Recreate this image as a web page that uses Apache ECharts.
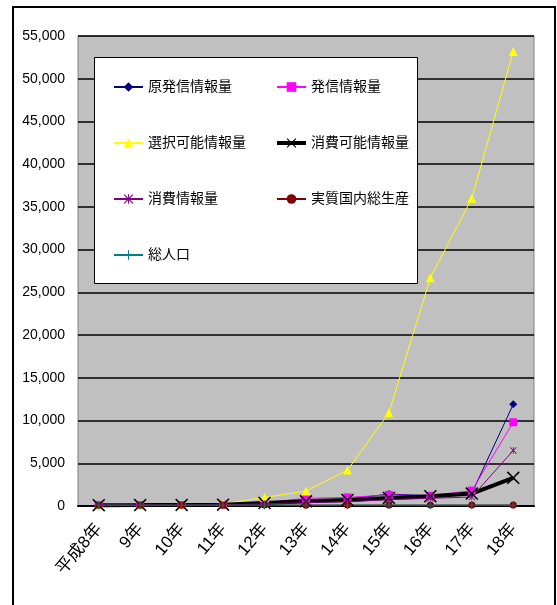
<!DOCTYPE html>
<html>
<head>
<meta charset="utf-8">
<script src="https://cdn.jsdelivr.net/npm/echarts@6/dist/echarts.min.js"></script>
<style>
  html, body { margin: 0; padding: 0; background: #fff; }
  #chart { width: 557px; height: 605px; }
</style>
</head>
<body>
<div id="chart"></div>
<script>
const categories = ['平成8年', '9年', '10年', '11年', '12年', '13年', '14年', '15年', '16年', '17年', '18年'];
const yTicks = [0, 5000, 10000, 15000, 20000, 25000, 30000, 35000, 40000, 45000, 50000, 55000];

const genHasshin = [100, 110, 120, 150, 400, 700, 800, 1400, 1200, 1500, 11900];
const hasshin = [100, 110, 120, 150, 400, 900, 1000, 1300, 1200, 1800, 9800];
const sentakuKanou = [100, 120, 150, 250, 1000, 1750, 4200, 10900, 26700, 36000, 53200];
const shouhiKanou = [100, 110, 130, 160, 350, 550, 700, 950, 1150, 1450, 3300];
const shouhi = [100, 105, 110, 130, 250, 400, 500, 750, 900, 1050, 6500];
const gdp = [100, 101, 100, 101, 103, 102, 103, 105, 107, 110, 112];
const population = [100, 100, 100, 101, 101, 101, 101, 101, 101, 101, 101];

const FONT = "'Liberation Sans', 'Noto Sans CJK JP', sans-serif";

// marker shapes Excel uses that echarts does not have
const xMark = 'path://M0,1L1,0L6,5L11,0L12,1L7,6L12,11L11,12L6,7L1,12L0,11L5,6Z';
const starMark = 'path://M0,1L1,0L6,5L11,0L12,1L7,6L12,11L11,12L6,7L1,12L0,11L5,6ZM5.4,0H6.6V12H5.4Z';
const plusMark = 'path://M5.3,0H6.7V5.3H12V6.7H6.7V12H5.3V6.7H0V5.3H5.3Z';

function line(name, data, color, symbol, size, width) {
  return {
    name: name,
    type: 'line',
    data: data,
    symbol: symbol,
    symbolSize: size,
    showSymbol: true,
    lineStyle: { color: color, width: width || 1 },
    itemStyle: { color: color },
    emphasis: { disabled: true },
  };
}

const chart = echarts.init(document.getElementById('chart'));
const legendText = { color: '#000', fontSize: 14, fontFamily: FONT, lineHeight: 16 };
const option = {
  animation: false,
  backgroundColor: '#fff',
  graphic: [
    {
      type: 'rect',
      z: 0,
      shape: { x: 13, y: 7, width: 542, height: 640 },
      style: { fill: 'none', stroke: '#000', lineWidth: 2 },
    },
    {
      type: 'rect',
      z: 3,
      shape: { x: 94.5, y: 57.5, width: 323, height: 226 },
      style: { fill: '#fff', stroke: '#000', lineWidth: 1 },
    },
  ],
  grid: {
    left: 78,
    right: 23,
    top: 36,
    bottom: 99,
    show: true,
    backgroundColor: '#C0C0C0',
    borderColor: '#808080',
    borderWidth: 1,
  },
  legend: [
    {
      orient: 'vertical',
      left: 108,
      top: 74,
      itemWidth: 29,
      itemHeight: 12,
      itemGap: 40,
      z: 5,
      textStyle: legendText,
      data: ['原発信情報量', '選択可能情報量', '消費情報量', '総人口'],
    },
    {
      orient: 'vertical',
      left: 270,
      top: 74,
      itemWidth: 29,
      itemHeight: 12,
      itemGap: 40,
      z: 5,
      textStyle: legendText,
      data: [
        '発信情報量',
        { name: '消費可能情報量', lineStyle: { width: 4 } },
        '実質国内総生産',
      ],
    },
  ],
  xAxis: {
    type: 'category',
    data: categories,
    boundaryGap: true,
    axisLine: { lineStyle: { color: '#000', width: 2 } },
    axisTick: { inside: true, length: 4, lineStyle: { color: '#000' } },
    axisLabel: {
      rotate: 50,
      margin: 20,
      color: '#000',
      fontSize: 17,
      fontFamily: FONT,
    },
  },
  yAxis: {
    type: 'value',
    min: yTicks[0],
    max: yTicks[yTicks.length - 1],
    interval: yTicks[1] - yTicks[0],
    axisLine: { show: false },
    axisTick: { show: false },
    splitLine: { lineStyle: { color: '#000', width: 1.5 } },
    axisLabel: {
      margin: 13,
      color: '#000',
      fontSize: 14,
      fontFamily: FONT,
      formatter: (v) => v.toLocaleString('en-US'),
    },
  },
  series: [
    line('原発信情報量', genHasshin, '#000080', 'diamond', 8),
    line('発信情報量', hasshin, '#FF00FF', 'rect', 8),
    line('選択可能情報量', sentakuKanou, '#FFFF00', 'triangle', 9),
    line('消費可能情報量', shouhiKanou, '#000000', xMark, 13, 4),
    line('消費情報量', shouhi, '#800080', starMark, 7),
    line('実質国内総生産', gdp, '#800000', 'circle', 7),
    line('総人口', population, '#008080', plusMark, 8),
  ],
};
chart.setOption(option);
</script>
</body>
</html>
